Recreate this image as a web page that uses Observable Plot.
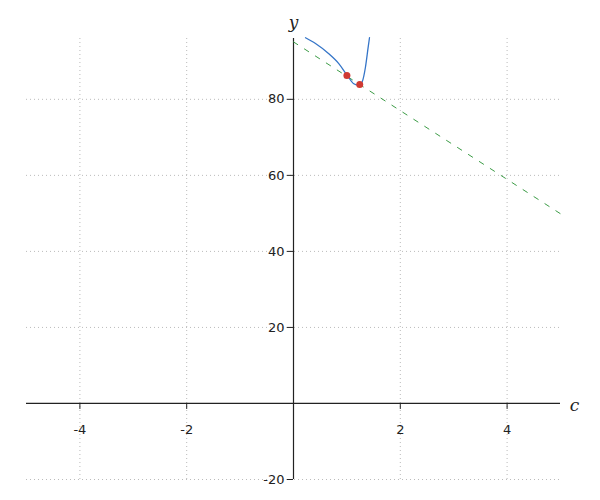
<!DOCTYPE html>
<html>
<head>
<meta charset="utf-8">
<script src="https://cdn.jsdelivr.net/npm/d3@7"></script>
<script src="https://cdn.jsdelivr.net/npm/@observablehq/plot@0.6"></script>
<style>
  html, body { margin: 0; padding: 0; background: #fff; }
</style>
</head>
<body>
<div id="chart"></div>
<script>
// Blue curve
const curveX = [0.225, 0.412, 0.661, 0.848, 1.006, 1.129, 1.223, 1.286, 1.348, 1.399, 1.423];
const curveY = [96.2, 94.7, 92.0, 89.4, 86.3, 84.1, 83.7, 84.6, 88.5, 93.8, 96.2];
// Green dashed line
const lineX = [0, 5];
const lineY = [95.1, 49.9];
// Red points
const pointX = [1.0, 1.24];
const pointY = [86.3, 83.9];
// Ticks
const xTicks = [-4, -2, 2, 4];
const yTicks = [-20, 20, 40, 60, 80];

const curve = curveX.map((x, i) => ({x, y: curveY[i]}));
const line = lineX.map((x, i) => ({x, y: lineY[i]}));
const points = pointX.map((x, i) => ({x, y: pointY[i]}));

const font = "DejaVu Sans, sans-serif";
const chart = Plot.plot({
  width: 600,
  height: 500,
  marginLeft: 26,
  marginRight: 40,
  marginTop: 38,
  marginBottom: 21,
  x: {domain: [-5, 5], axis: null},
  y: {domain: [-20, 96], axis: null},
  style: {fontFamily: font, background: "#fff"},
  marks: [
    // grid
    Plot.ruleX(xTicks, {x: d => d, stroke: "#bbb", strokeDasharray: "1,3", strokeWidth: 1}),
    Plot.ruleY(yTicks, {y: d => d, stroke: "#bbb", strokeDasharray: "1,3", strokeWidth: 1}),
    // axes
    Plot.ruleY([0], {stroke: "#222", strokeWidth: 1.2}),
    Plot.ruleX([0], {stroke: "#222", strokeWidth: 1.2}),
    // ticks
    Plot.ruleX(xTicks, {x: d => d, y1: 0, y2: 0, insetBottom: -6, stroke: "#222"}),
    Plot.ruleY(yTicks, {y: d => d, x1: 0, x2: 0, insetLeft: -6, stroke: "#222"}),
    // tick labels
    Plot.text(xTicks, {x: d => d, y: 0, dy: 26, text: d => String(d), fontSize: 13, fill: "#222"}),
    Plot.text(yTicks, {x: 0, y: d => d, dx: -9, text: d => String(d), textAnchor: "end", fontSize: 13, fill: "#222"}),
    // axis labels
    Plot.text(["y"], {x: 0, y: 96, dy: -16, text: d => d, fontFamily: "DejaVu Serif, serif", fontStyle: "italic", fontSize: 17, fill: "#222"}),
    Plot.text(["c"], {x: 5, y: 0, dx: 14, dy: 2, text: d => d, fontFamily: "DejaVu Serif, serif", fontStyle: "italic", fontSize: 17, fill: "#222", textAnchor: "middle"}),
    // data
    Plot.line(line, {x: "x", y: "y", stroke: "#3c9c46", strokeWidth: 1, strokeDasharray: "5,8"}),
    Plot.line(curve, {x: "x", y: "y", stroke: "#3575c8", strokeWidth: 1.3, curve: "monotone-x"}),
    Plot.dot(points, {x: "x", y: "y", r: 3.5, fill: "#d03a33", stroke: "none"})
  ]
});
document.getElementById("chart").appendChild(chart);
</script>
</body>
</html>
